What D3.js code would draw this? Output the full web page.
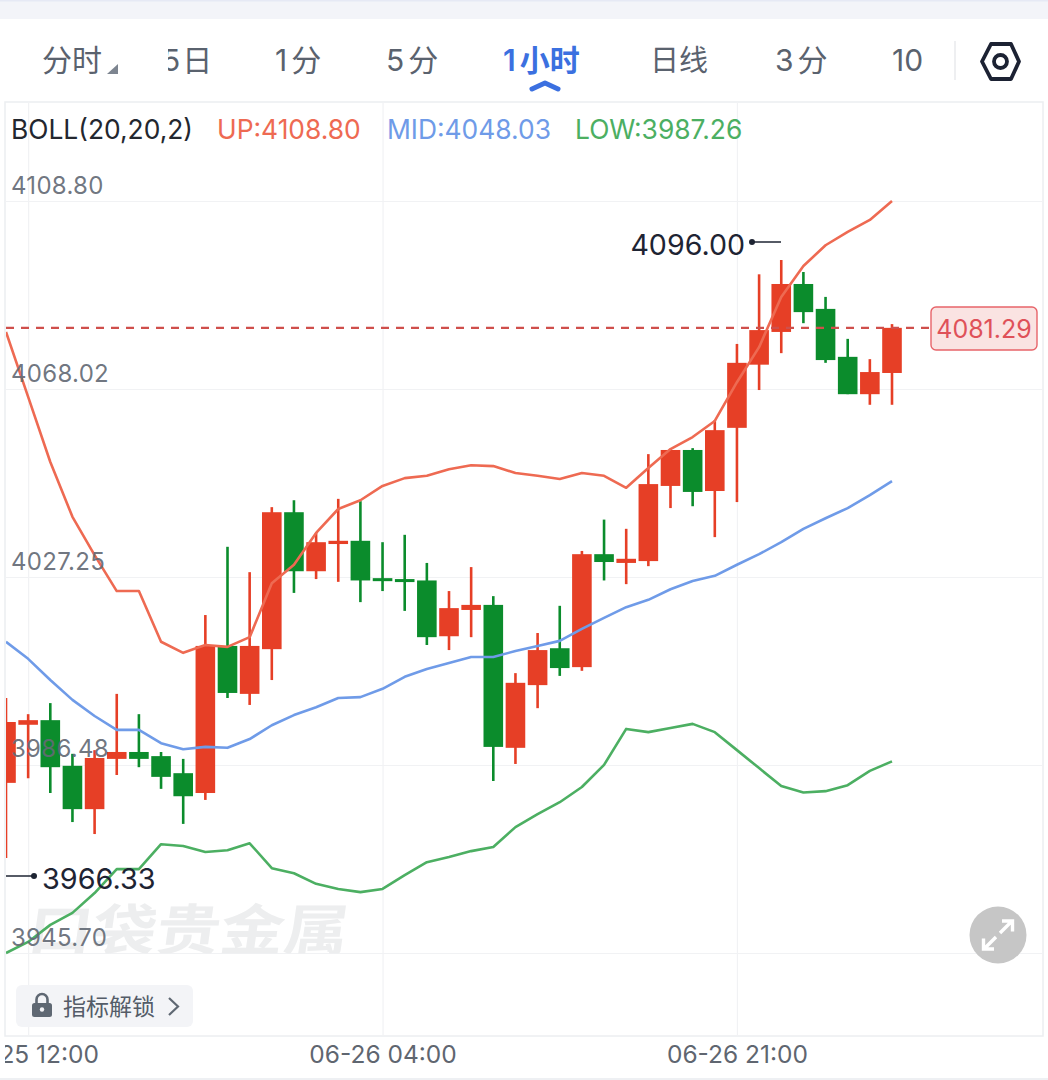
<!DOCTYPE html>
<html><head><meta charset="utf-8">
<script src="https://cdn.jsdelivr.net/npm/d3@7/dist/d3.min.js"></script>
<style>html,body{margin:0;padding:0;background:#fff;overflow:hidden}svg{display:block}
text{font-family:Inter,Roboto,"Noto Sans CJK SC",sans-serif}</style></head><body>
<svg id="c" width="1048" height="1080"></svg>
<script>
const open_ =[3982.6,3995.2,3996.2,3986.3,3976.9,3987.8,3989.3,3988.4,3984.7,3980.4,4012.3,4001.9,4011.6,4041.3,4028.5,4034.4,4035.1,4027.0,4026.8,4026.5,4014.4,4020.1,4021.2,3990.2,4003.8,4011.8,4007.7,4032.2,4030.3,4030.7,4047.0,4054.8,4045.9,4059.6,4073.3,4080.4,4090.8,4085.4,4075.0,4066.9,4071.5];
const high_ =[4001.0,3997.5,3999.9,3988.9,3989.7,4001.9,3997.5,3989.3,3987.8,4019.0,4033.8,4028.3,4042.4,4043.9,4036.8,4044.2,4043.7,4034.8,4036.4,4030.3,4024.2,4029.4,4023.1,4006.4,4015.1,4021.0,4032.9,4039.7,4037.7,4053.9,4055.0,4055.2,4061.3,4077.8,4092.9,4096.0,4093.4,4088.0,4078.9,4074.5,4082.1];
const low_  =[3966.33,3983.6,3980.4,3974.1,3971.5,3984.3,3986.0,3981.3,3973.7,3978.9,4001.0,3999.5,4004.9,4023.8,4026.8,4026.2,4021.8,4024.2,4019.9,4012.5,4011.4,4014.2,3983.0,3986.7,3998.8,4005.8,4006.9,4026.5,4025.7,4029.6,4042.2,4042.6,4035.9,4043.5,4067.8,4075.8,4082.3,4073.7,4066.9,4064.6,4064.6];
const close_=[3995.8,3996.2,3986.0,3976.9,3988.0,3989.3,3987.8,3983.9,3979.7,4012.3,4002.1,4012.3,4041.3,4028.5,4034.8,4035.1,4026.5,4026.4,4026.2,4014.2,4020.5,4021.2,3990.4,4004.3,4011.4,4007.5,4032.2,4030.5,4031.2,4047.4,4054.8,4045.7,4059.1,4073.7,4080.8,4090.8,4084.7,4074.3,4066.9,4071.7,4081.29];
const bollUp=[4080.4,4066.3,4052.2,4040.3,4032.0,4024.2,4024.2,4013.2,4010.8,4012.5,4012.1,4014.2,4025.9,4029.9,4036.8,4042.0,4043.9,4047.0,4048.7,4049.2,4050.6,4051.5,4051.3,4049.8,4049.2,4048.5,4049.8,4049.2,4046.6,4050.9,4055.0,4057.6,4061.1,4069.5,4077.1,4088.0,4094.7,4099.2,4102.1,4104.7,4108.8];
const bollMid=[4013.2,4009.5,4004.9,4000.6,3997.1,3994.1,3994.1,3991.2,3989.9,3990.4,3990.2,3992.1,3995.1,3997.3,3999.0,4001.0,4001.2,4003.0,4005.6,4007.3,4008.6,4009.9,4009.9,4011.2,4012.3,4013.4,4016.0,4018.4,4020.7,4022.3,4024.6,4026.4,4027.5,4029.9,4032.2,4034.8,4037.7,4040.0,4042.2,4045.0,4048.03];
const bollLow=[3945.7,3948.1,3951.8,3954.4,3958.7,3963.9,3963.9,3969.3,3968.9,3967.6,3968.0,3969.5,3964.1,3963.0,3960.7,3959.6,3958.9,3959.6,3962.6,3965.4,3966.5,3967.8,3968.7,3973.0,3975.8,3978.4,3981.7,3986.5,3994.3,3993.6,3994.5,3995.4,3993.6,3989.7,3985.8,3981.9,3980.5,3980.8,3982.1,3985.2,3987.26];
const yTicks=[4108.80,4068.02,4027.25,3986.48,3945.70];
const xTicks=[1,17,33];
const xTickLabels=["06-25 12:00","06-26 04:00","06-26 21:00"];
const tabs=["分时","5日","1分","5分","1小时","日线","3分","10"];
const legendItems=["BOLL(20,20,2)","UP:4108.80","MID:4048.03","LOW:3987.26"];
const lastPrice=4081.29, maxPrice=4096.00, minPrice=3966.33;

const RED="#e63f26",GREEN="#0b8c2c",C_UP="#ee6a52",C_MID="#6f9be8",C_LOW="#4caf62";
const svg=d3.select("#c");
const x=d3.scaleLinear().domain([0,40]).range([6,892]);
const y=d3.scaleLinear().domain([3945.70,4108.80]).range([953,201]);
const L=5,R=1043,T=102,B=1036;
const defs=svg.append("defs");
defs.append("clipPath").attr("id","plot").append("rect").attr("x",L+1).attr("y",T).attr("width",R-L-1).attr("height",B-T);
defs.append("clipPath").attr("id","tabclip").append("rect").attr("x",168).attr("y",30).attr("width",60).attr("height",60);
defs.append("clipPath").attr("id","xclip").append("rect").attr("x",5).attr("y",1036).attr("width",1040).attr("height",44);
defs.append("clipPath").attr("id","wm").append("rect").attr("x",20).attr("y",900).attr("width",340).attr("height",53.5);

// top bar
svg.append("rect").attr("x",0).attr("y",0).attr("width",1048).attr("height",19).attr("fill","#f3f4f9");
svg.append("rect").attr("x",0).attr("y",0).attr("width",1048).attr("height",1.5).attr("fill","#e6e9f5");

// tabs
const tabX=[42,162,275,386,503,650,775,892];
const tg=svg.append("g");
tabs.forEach((t,i)=>{
  const el=tg.append("text").attr("x",tabX[i]).attr("y",71).attr("font-size",i==5?29:30)
    .attr("font-weight",i==4?600:400).attr("fill",i==4?"#3b70e0":"#5a626e")
    .attr("clip-path",i==1?"url(#tabclip)":null);
  if(/^[0-9][^0-9]/.test(t)){
    el.append("tspan").attr("letter-spacing",i==1?2:4).text(t[0]);
    el.append("tspan").text(t.slice(1));
  } else el.text(t);
});
tg.append("path").attr("d",d3.line()([[118,64],[118,74],[107,74]])+"Z").attr("fill","#7d8590");
tg.append("path").attr("d",d3.line()([[532,89],[545,83],[558,89]])).attr("fill","none").attr("stroke","#3b70e0").attr("stroke-width",5).attr("stroke-linejoin","round").attr("stroke-linecap","round");
tg.append("line").attr("x1",955).attr("x2",955).attr("y1",41).attr("y2",80).attr("stroke","#e8eaed").attr("stroke-width",1.5);
const hex=[[982,61.5],[991,44],[1011,44],[1019,61.5],[1011,79],[991,79]];
tg.append("path").attr("d",d3.line()(hex)+"Z").attr("fill","none").attr("stroke","#1c2233").attr("stroke-width",3.8).attr("stroke-linejoin","round");
tg.append("circle").attr("cx",1000.5).attr("cy",61.5).attr("r",6.5).attr("fill","none").attr("stroke","#1c2233").attr("stroke-width",3.8);

// panel
svg.append("rect").attr("x",L).attr("y",T).attr("width",R-L).attr("height",B-T).attr("fill","#fff").attr("stroke","#eceef1").attr("stroke-width",1.5);

// grid via axes
const gridY=svg.append("g").attr("transform",`translate(${L},0)`).call(d3.axisRight(y).tickValues(yTicks).tickSize(R-L).tickFormat(""));
gridY.select(".domain").remove();gridY.selectAll("line").attr("stroke","#f1f2f4").attr("stroke-width",1.2);
const gridX=svg.append("g").attr("transform",`translate(0,${B})`).call(d3.axisTop(x).tickValues(xTicks).tickSize(B-T).tickFormat(""));
gridX.select(".domain").remove();gridX.selectAll("line").attr("stroke","#f1f2f4").attr("stroke-width",1.2);

// watermark
svg.append("g").attr("clip-path","url(#wm)").append("text")
  .attr("transform","translate(26,950) skewX(-8) scale(1,0.86)")
  .attr("font-size",64).attr("font-weight",700).attr("fill","#edeeef").text("口袋贵金属");

// candles
const idx=d3.range(open_.length);
const plot=svg.append("g").attr("clip-path","url(#plot)");
const col=i=>close_[i]>=open_[i]?RED:GREEN;
plot.selectAll("line.w").data(idx).join("line").attr("class","w")
  .attr("x1",x).attr("x2",x).attr("y1",i=>y(high_[i])).attr("y2",i=>y(low_[i]))
  .attr("stroke",col).attr("stroke-width",2.6);
const bw=19.6;
plot.selectAll("rect.b").data(idx).join("rect").attr("class","b")
  .attr("x",i=>x(i)-bw/2).attr("width",bw)
  .attr("y",i=>y(Math.max(open_[i],close_[i])))
  .attr("height",i=>Math.max(3,Math.abs(y(open_[i])-y(close_[i]))))
  .attr("fill",col);

// boll lines
const line=d3.line().x((d,i)=>x(i)).y(d=>y(d));
[[bollUp,C_UP],[bollMid,C_MID],[bollLow,C_LOW]].forEach(([s,c])=>{
  plot.append("path").attr("d",line(s)).attr("fill","none").attr("stroke",c).attr("stroke-width",2.6).attr("stroke-linejoin","round");
});

// y labels
const axY=svg.append("g").attr("transform",`translate(${L},0)`).call(d3.axisRight(y).tickValues(yTicks).tickSize(0).tickPadding(6).tickFormat(d3.format(".2f")));
axY.select(".domain").remove();
axY.selectAll("text").attr("font-size",24).attr("letter-spacing",.3).attr("dy",-8).attr("fill","#636a75").attr("font-family",'Inter,Roboto,sans-serif').attr("fill-opacity",.92);

// x labels
const axX=svg.append("g").attr("clip-path","url(#xclip)").append("g").attr("transform",`translate(0,${B})`)
  .call(d3.axisBottom(x).tickValues(xTicks).tickSize(0).tickPadding(10).tickFormat((d,i)=>xTickLabels[i]));
axX.select(".domain").remove();
axX.selectAll("text").attr("font-size",24.5).attr("fill","#5f6670").attr("font-family",'Inter,Roboto,sans-serif').attr("text-anchor","middle");
svg.append("rect").attr("x",0).attr("y",1078).attr("width",1048).attr("height",2).attr("fill","#eef0f3");

// legend
const legX=[11,217,387,575],legC=["#23272f",C_UP,C_MID,C_LOW];
legendItems.forEach((t,i)=>svg.append("text").attr("x",legX[i]).attr("y",138.5).attr("font-size",26.4).attr("fill",legC[i]).text(t));

// max / min annotations
svg.append("line").attr("x1",752).attr("x2",781).attr("y1",242).attr("y2",242).attr("stroke","#1e2433").attr("stroke-width",1.5);
svg.append("circle").attr("cx",752).attr("cy",242).attr("r",3).attr("fill","#1e2433");
svg.append("text").attr("x",745).attr("y",254.5).attr("text-anchor","end").attr("font-size",28.6).attr("fill","#1e2433").text(maxPrice.toFixed(2));
svg.append("line").attr("x1",6).attr("x2",34).attr("y1",876).attr("y2",876).attr("stroke","#1e2433").attr("stroke-width",1.5);
svg.append("circle").attr("cx",34).attr("cy",876).attr("r",3).attr("fill","#1e2433");
svg.append("text").attr("x",42).attr("y",889).attr("font-size",28.8).attr("fill","#1e2433").text(minPrice.toFixed(2));

// last price
svg.append("line").attr("x1",6).attr("x2",931).attr("y1",y(lastPrice)).attr("y2",y(lastPrice)).attr("stroke","#cf4f4b").attr("stroke-width",2.2).attr("stroke-dasharray","8 7");
svg.append("rect").attr("x",931).attr("y",307).attr("width",106).attr("height",43).attr("rx",5).attr("fill","#fae3e2").attr("stroke","#e7646a").attr("stroke-width",1.4);
svg.append("text").attr("x",984).attr("y",337.5).attr("text-anchor","middle").attr("font-size",25).attr("fill","#df5159").text(lastPrice.toFixed(2));

// unlock button
svg.append("rect").attr("x",16).attr("y",985).attr("width",177).attr("height",42).attr("rx",6).attr("fill","#f3f4f7");
svg.append("rect").attr("x",32).attr("y",1003).attr("width",20).attr("height",14).attr("rx",2.5).attr("fill","#5f6873");
svg.append("path").attr("d","M36.5,1003 v-3.5 a5.5,5.5 0 0 1 11,0 v3.5").attr("fill","none").attr("stroke","#5f6873").attr("stroke-width",2.6);
svg.append("circle").attr("cx",42).attr("cy",1009.5).attr("r",2.2).attr("fill","#f3f4f7");
svg.append("text").attr("x",63).attr("y",1014.5).attr("font-size",23).attr("fill","#545c68").text("指标解锁");
svg.append("path").attr("d","M169,998 l9,8.5 l-9,8.5").attr("fill","none").attr("stroke","#5f6873").attr("stroke-width",2.2);

// fullscreen button
svg.append("circle").attr("cx",998).attr("cy",935).attr("r",28.5).attr("fill","#c6c6c6");
svg.append("path").attr("d","M1000,933 L1012,921 M1002,921 h10.5 v10.5 M996,937 L984,949 M994,949 h-10.5 v-10.5")
  .attr("fill","none").attr("stroke","#fff").attr("stroke-width",3.4);
</script></body></html>
